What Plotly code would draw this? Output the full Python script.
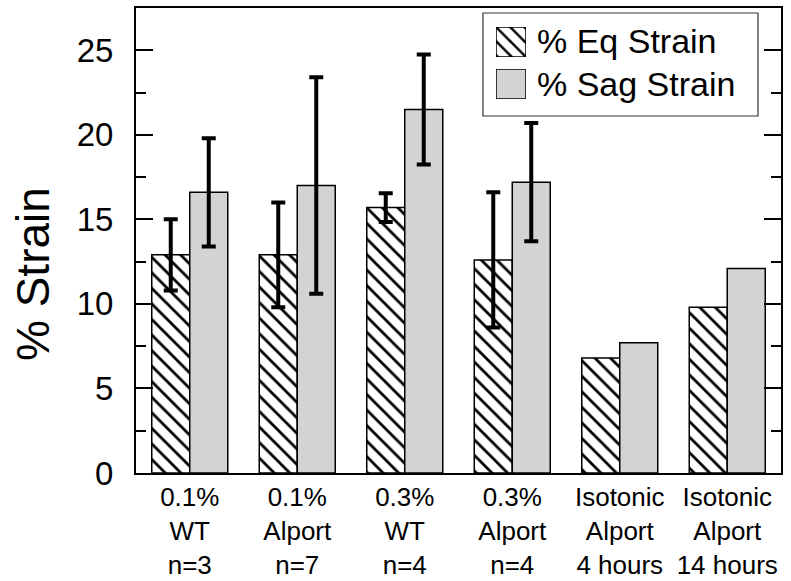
import plotly.graph_objects as go

categories = ["0.1%<br>WT<br>n=3", "0.1%<br>Alport<br>n=7", "0.3%<br>WT<br>n=4",
              "0.3%<br>Alport<br>n=4", "Isotonic<br>Alport<br>4 hours", "Isotonic<br>Alport<br>14 hours"]
eq_strain = [12.9, 12.9, 15.7, 12.6, 6.8, 9.8]
eq_err = [2.1, 3.1, 0.85, 4.0, None, None]
sag_strain = [16.6, 17.0, 21.5, 17.2, 7.7, 12.1]
sag_err = [3.2, 6.4, 3.25, 3.5, None, None]
legend_names = ["% Eq Strain", "% Sag Strain"]
y_title = "% Strain"

FONT = "Liberation Sans, Arial, sans-serif"
GRAY = "#d3d3d3"
hatch = dict(shape="\\", fgcolor="black", bgcolor="white", fgopacity=1, fillmode="overlay",
             size=11, solidity=0.25)
eq_marker = dict(color="white", pattern=hatch, line=dict(color="black", width=1.5))
sag_marker = dict(color=GRAY, line=dict(color="black", width=1.5))

fig = go.Figure()
for vals, errs, mk, grp, name in [(eq_strain, eq_err, eq_marker, "eq", legend_names[0]),
                                  (sag_strain, sag_err, sag_marker, "sag", legend_names[1])]:
    with_err = [i for i, e in enumerate(errs) if e is not None]
    no_err = [i for i, e in enumerate(errs) if e is None]
    fig.add_trace(go.Bar(
        x=[categories[i] for i in with_err], y=[vals[i] for i in with_err], name=name,
        offsetgroup=grp, marker=mk,
        error_y=dict(type="data", array=[errs[i] for i in with_err], visible=True,
                     color="black", thickness=4, width=7),
        showlegend=False))
    fig.add_trace(go.Bar(
        x=[categories[i] for i in no_err], y=[vals[i] for i in no_err], name=name,
        offsetgroup=grp, marker=mk, showlegend=False))

# custom legend swatches drawn as bars on small inset axes
W, H = 791, 581
L, R, T, B = 136, 10, 8, 108
pw, ph = W - L - R, H - T - B
def px_x(x): return (x - L) / pw
def px_y(y): return (H - B - y) / ph

swatches = [(496, 526, 27, 57), (496, 526, 69, 99)]
text_y = [41, 84]
for i, (x0, x1, y0, y1) in enumerate(swatches):
    ax = i + 2
    mk = dict(eq_marker, pattern=dict(hatch, size=10)) if i == 0 else sag_marker
    fig.add_trace(go.Bar(x=[0], y=[1], width=[1], marker=mk, xaxis=f"x{ax}", yaxis=f"y{ax}",
                         showlegend=False, hoverinfo="skip"))
    fig.update_layout(**{
        f"xaxis{ax}": dict(domain=[px_x(x0), px_x(x1)], range=[-0.5, 0.5], visible=False,
                           anchor=f"y{ax}", fixedrange=True),
        f"yaxis{ax}": dict(domain=[px_y(y1), px_y(y0)], range=[0, 1], visible=False,
                           anchor=f"x{ax}", fixedrange=True),
    })
    fig.add_annotation(x=px_x(535), y=px_y(text_y[i]), xref="paper", yref="paper",
                       text=legend_names[i], showarrow=False, xanchor="left", yanchor="middle",
                       font=dict(family=FONT, size=34, color="black"))

fig.add_shape(type="rect", xref="paper", yref="paper",
              x0=px_x(483), x1=px_x(758), y0=px_y(116), y1=px_y(13),
              line=dict(color="#333", width=1.2), fillcolor="white", layer="below")

# y-axis title
fig.add_annotation(x=px_x(33), y=px_y(274), xref="paper", yref="paper", text=y_title,
                   textangle=-90, showarrow=False, xanchor="center", yanchor="middle",
                   font=dict(family=FONT, size=46, color="black"))

fig.update_layout(
    width=W, height=H,
    margin=dict(l=L, r=R, t=T, b=B, autoexpand=False),
    paper_bgcolor="white", plot_bgcolor="white",
    barmode="group", bargap=0.293, bargroupgap=0,
    font=dict(family=FONT, color="black"),
    xaxis=dict(showline=True, linecolor="black", linewidth=2, mirror=True, ticks="",
               tickfont=dict(size=26), ticklabelstandoff=0, range=[-0.5, 5.5],
               automargin=False, categoryorder="array", categoryarray=categories),
    yaxis=dict(range=[0, 27.5], dtick=5, tick0=0, showline=True, linecolor="black", linewidth=2,
               mirror="ticks", ticks="inside", ticklen=17, tickwidth=2, tickcolor="black",
               minor=dict(ticks="inside", ticklen=10, tickwidth=2, dtick=2.5, tickcolor="black"),
               showgrid=False, zeroline=False, tickfont=dict(size=33), ticklabelstandoff=14,
               automargin=False),
)

fig.write_html("out.html")
